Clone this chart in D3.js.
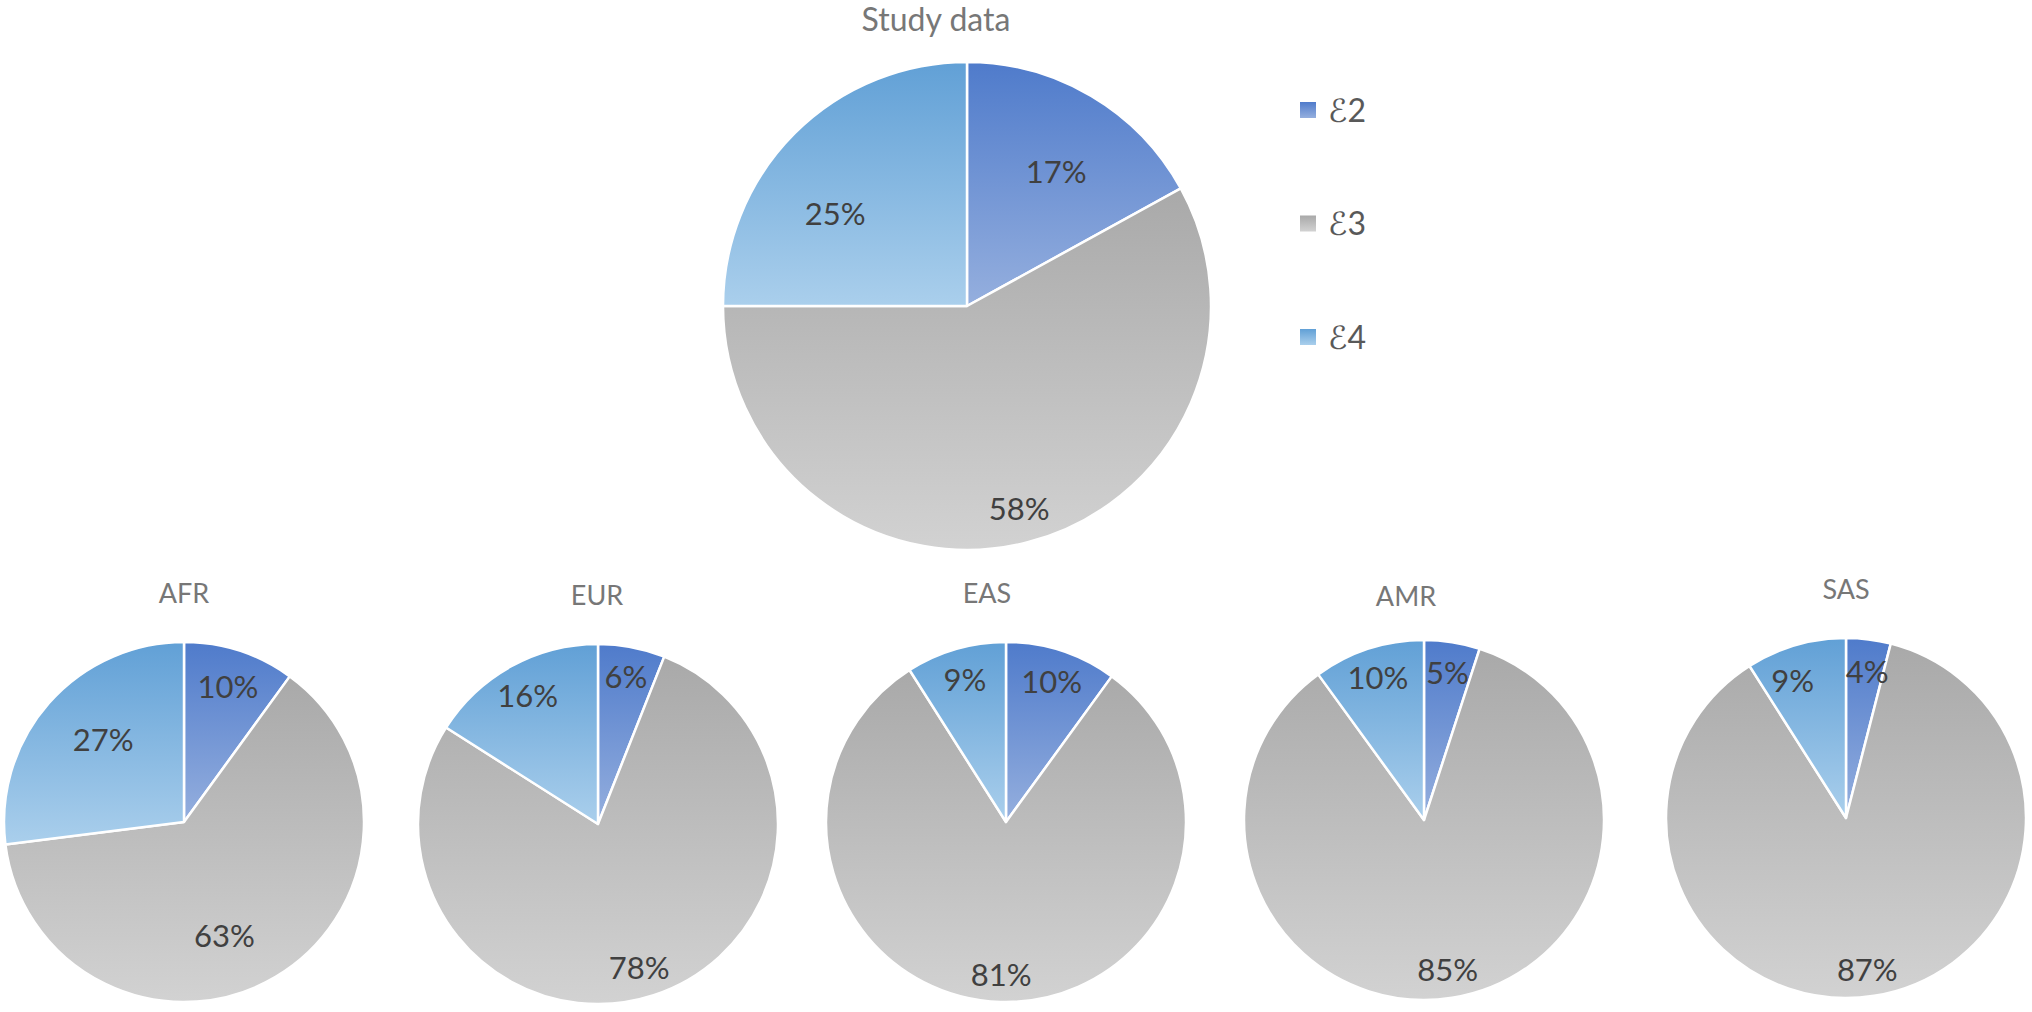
<!DOCTYPE html>
<html>
<head>
<meta charset="utf-8">
<script src="https://cdn.jsdelivr.net/npm/d3@7"></script>
<style>
  body { margin: 0; background: #fff; }
  svg { display: block; font-family: Lato, "DejaVu Sans", sans-serif; }
</style>
</head>
<body>
<div id="chart"></div>
<script>
// series and values (percent)
var series = ["\u21302", "\u21303", "\u21304"];
var panels = ["Study data", "AFR", "EUR", "EAS", "AMR", "SAS"];

var studyValues = [17, 58, 25];
var afrValues = [10, 63, 27];
var eurValues = [6, 78, 16];
var easValues = [10, 81, 9];
var amrValues = [5, 85, 10];
var sasValues = [4, 87, 9];

var values = {
    "Study data": studyValues,
    "AFR": afrValues,
    "EUR": eurValues,
    "EAS": easValues,
    "AMR": amrValues,
    "SAS": sasValues
};

// where each pie sits; label radius (fraction of r) and angle nudge (deg) per slice
var layout = {
    "Study data": {cx: 967, cy: 306, r: 244, tx: 936, ty: 31, tsize: 32, lab: [0.66, 0.86, 0.66], rot: [3, 0, -10]},
    "AFR": {cx: 184, cy: 822, r: 180, tx: 184, ty: 603, tsize: 27, lab: [0.79, 0.67, 0.64], rot: [0, 11, 4]},
    "EUR": {cx: 598, cy: 824, r: 180, tx: 597, ty: 605, tsize: 27, lab: [0.83, 0.83, 0.81], rot: [0, 2, 0]},
    "EAS": {cx: 1006, cy: 822, r: 180, tx: 987, ty: 603, tsize: 27, lab: [0.82, 0.85, 0.82], rot: [0, 0, 0]},
    "AMR": {cx: 1424, cy: 820, r: 180, tx: 1406, ty: 606, tsize: 27, lab: [0.83, 0.84, 0.83], rot: [0, 0, 0]},
    "SAS": {cx: 1846, cy: 818, r: 180, tx: 1846, ty: 599, tsize: 27, lab: [0.82, 0.85, 0.82], rot: [1, 1, -5]}
};

var width = 2032, height = 1012;

var svg = d3.select("#chart").append("svg")
    .attr("width", width)
    .attr("height", height);

// Excel-style top-to-bottom gradients, one per series
var gradStops = [["#4f7bcb", "#95afde"], ["#a9a9a9", "#d2d2d2"], ["#61a0d6", "#aacfec"]];
var defs = svg.append("defs");
series.forEach(function(s, i) {
    var g = defs.append("linearGradient")
        .attr("id", "grad" + i)
        .attr("x1", 0).attr("y1", 0).attr("x2", 0).attr("y2", 1);
    g.append("stop").attr("offset", "0%").attr("stop-color", gradStops[i][0]);
    g.append("stop").attr("offset", "100%").attr("stop-color", gradStops[i][1]);
});

var color = d3.scaleOrdinal().domain(series).range(series.map(function(s, i) { return "url(#grad" + i + ")"; }));

var pie = d3.pie().sort(null).value(function(d) { return d.value; });

panels.forEach(function(name) {
    var L = layout[name];
    var rows = series.map(function(s, i) { return {key: s, value: values[name][i], idx: i}; });
    var arcs = pie(rows);
    var arc = d3.arc().innerRadius(0).outerRadius(L.r);

    var g = svg.append("g")
        .attr("transform", "translate(" + L.cx + "," + L.cy + ")");

    g.selectAll(".slice")
        .data(arcs)
        .enter().append("path")
        .attr("class", "slice")
        .attr("d", arc)
        .style("fill", function(d) { return color(d.data.key); })
        .style("stroke", "#fff")
        .style("stroke-width", 2.5)
        .style("stroke-linejoin", "round");

    g.selectAll(".label")
        .data(arcs)
        .enter().append("text")
        .attr("class", "label")
        .attr("transform", function(d) {
            var a = (d.startAngle + d.endAngle) / 2 + L.rot[d.data.idx] * Math.PI / 180;
            var rr = L.r * L.lab[d.data.idx];
            return "translate(" + (Math.sin(a) * rr) + "," + (-Math.cos(a) * rr) + ")";
        })
        .attr("dy", "0.36em")
        .style("text-anchor", "middle")
        .style("font-size", "31px")
        .style("fill", "#404040")
        .text(function(d) { return d.data.value + "%"; });

    // chart title
    svg.append("text")
        .attr("x", L.tx)
        .attr("y", L.ty)
        .style("text-anchor", "middle")
        .style("font-size", L.tsize + "px")
        .style("fill", "#777777")
        .text(name);
});

// legend
var legend = svg.selectAll(".legend")
    .data(series)
    .enter().append("g")
    .attr("class", "legend")
    .attr("transform", function(d, i) { return "translate(1300," + (110 + i * 113.5) + ")"; });

legend.append("rect")
    .attr("x", 0)
    .attr("y", -8)
    .attr("width", 16)
    .attr("height", 16)
    .style("fill", color);

legend.append("text")
    .attr("x", 28)
    .attr("y", 0)
    .attr("dy", "0.36em")
    .style("font-size", "32px")
    .style("fill", "#595959")
    .text(function(d) { return d; });
</script>
</body>
</html>
